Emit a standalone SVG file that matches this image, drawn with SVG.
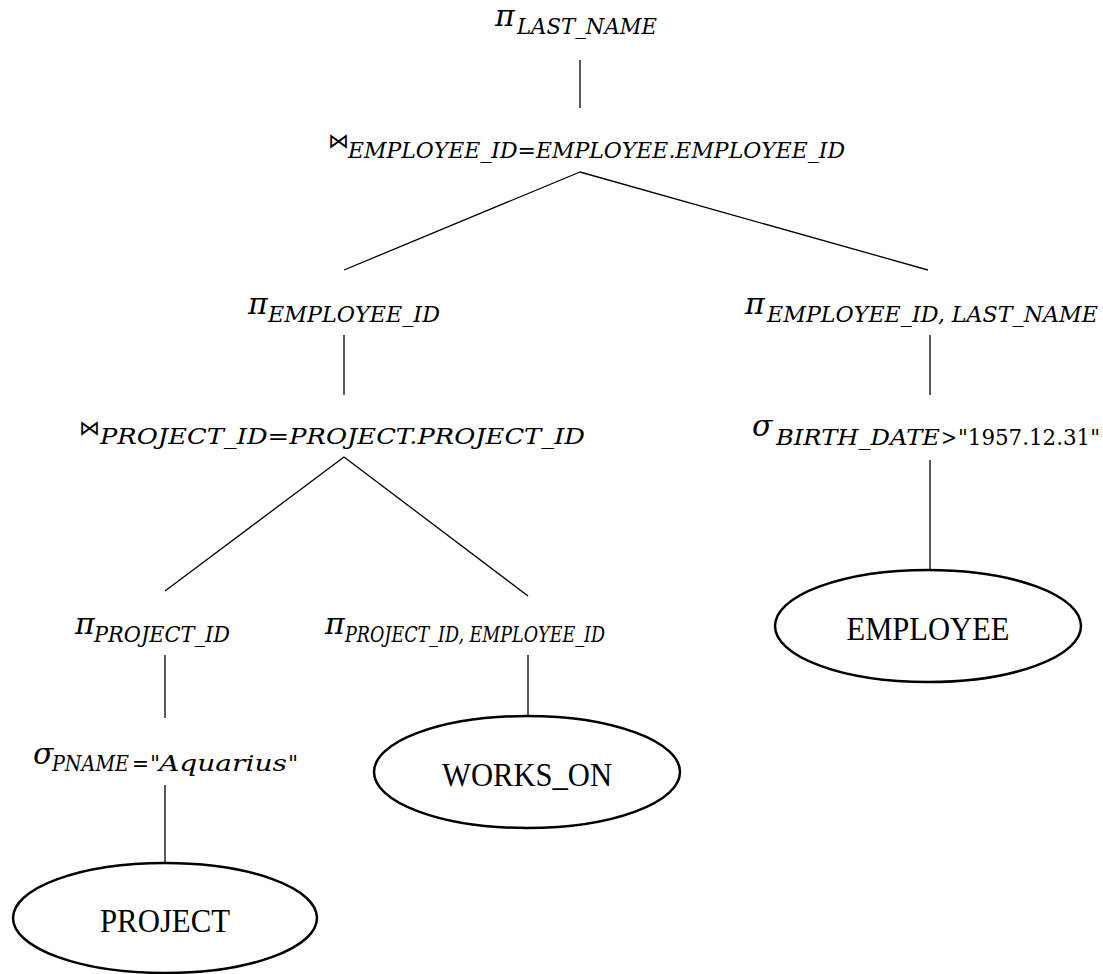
<svg xmlns="http://www.w3.org/2000/svg" width="1103" height="974" viewBox="0 0 1103 974">
<style>
  .sym { font-family: "DejaVu Serif", "Liberation Serif", serif; font-style: italic; font-size: 30px; fill: #000; }
  .sub { font-family: "DejaVu Serif", "Liberation Serif", serif; font-style: italic; font-size: 22px; fill: #000; }
  .up { font-family: "DejaVu Serif", "Liberation Serif", serif; font-style: normal; font-size: 22px; fill: #000; }
  .join { font-family: "DejaVu Sans", sans-serif; font-size: 21px; fill: #000; }
  .rel { font-family: "Liberation Serif", "DejaVu Serif", serif; font-size: 34px; fill: #000; text-anchor: middle; }
  .ell { fill: #fff; stroke: #000; stroke-width: 2.5; }
  .edge { stroke: #000; stroke-width: 1.3; fill: none; }
</style>
<rect width="1103" height="974" fill="#fff"/>
<g id="connectors">
  <line class="edge" x1="580" y1="60" x2="580" y2="108"/>
  <line class="edge" x1="580" y1="172" x2="344" y2="270"/>
  <line class="edge" x1="580" y1="172" x2="928" y2="270"/>
  <line class="edge" x1="344" y1="335" x2="344" y2="395"/>
  <line class="edge" x1="930" y1="335" x2="930" y2="395"/>
  <line class="edge" x1="344" y1="457" x2="165" y2="591"/>
  <line class="edge" x1="344" y1="457" x2="528" y2="596"/>
  <line class="edge" x1="930" y1="460" x2="930" y2="570"/>
  <line class="edge" x1="165" y1="655" x2="165" y2="718"/>
  <line class="edge" x1="528" y1="655" x2="528" y2="716"/>
  <line class="edge" x1="165" y1="785" x2="165" y2="863"/>
</g>
<g id="proj-lastname">
  <text class="sym" x="495" y="26">π</text>
  <text class="sub" x="517" y="34" textLength="140" lengthAdjust="spacingAndGlyphs">LAST_NAME</text>
</g>
<g id="join-employee">
  <text class="join" x="328" y="148">⋈</text>
  <text class="sub" x="348" y="158" textLength="497" lengthAdjust="spacingAndGlyphs">EMPLOYEE_ID=EMPLOYEE.EMPLOYEE_ID</text>
</g>
<g id="proj-employeeid">
  <text class="sym" x="248" y="314">π</text>
  <text class="sub" x="268" y="322" textLength="172" lengthAdjust="spacingAndGlyphs">EMPLOYEE_ID</text>
</g>
<g id="proj-employeeid-lastname">
  <text class="sym" x="745" y="314">π</text>
  <text class="sub" x="767" y="322" textLength="331" lengthAdjust="spacingAndGlyphs">EMPLOYEE_ID, LAST_NAME</text>
</g>
<g id="join-project">
  <text class="join" x="79" y="435">⋈</text>
  <text class="sub" x="100" y="444" textLength="485" lengthAdjust="spacingAndGlyphs">PROJECT_ID=PROJECT.PROJECT_ID</text>
</g>
<g id="select-birthdate">
  <text class="sym" x="752" y="436">σ</text>
  <text class="sub" x="776" y="445" textLength="164" lengthAdjust="spacingAndGlyphs">BIRTH_DATE</text>
  <text class="up" x="941" y="445" textLength="16" lengthAdjust="spacingAndGlyphs">&gt;</text>
  <text class="up" x="958" y="445" textLength="142" lengthAdjust="spacingAndGlyphs">"1957.12.31"</text>
</g>
<g id="proj-projectid">
  <text class="sym" x="75" y="634">π</text>
  <text class="sub" x="94" y="642" textLength="136" lengthAdjust="spacingAndGlyphs">PROJECT_ID</text>
</g>
<g id="proj-projectid-employeeid">
  <text class="sym" x="325" y="634">π</text>
  <text class="sub" x="345" y="642" textLength="260" lengthAdjust="spacingAndGlyphs">PROJECT_ID, EMPLOYEE_ID</text>
</g>
<g id="select-pname">
  <text class="sym" x="33" y="764">σ</text>
  <text class="sub" x="52" y="771" textLength="77" lengthAdjust="spacingAndGlyphs">PNAME</text>
  <text class="up" x="132" y="771" textLength="17" lengthAdjust="spacingAndGlyphs">=</text>
  <text class="up" x="150" y="771">"</text>
  <text class="sub" x="159" y="771" textLength="128" lengthAdjust="spacingAndGlyphs">Aquarius</text>
  <text class="up" x="288" y="771">"</text>
</g>
<g id="employee">
  <ellipse class="ell" cx="928" cy="626" rx="153" ry="56"/>
  <text class="rel" x="928" y="640" textLength="163" lengthAdjust="spacingAndGlyphs">EMPLOYEE</text>
</g>
<g id="works-on">
  <ellipse class="ell" cx="527" cy="772" rx="153" ry="56"/>
  <text class="rel" x="527" y="786" textLength="170" lengthAdjust="spacingAndGlyphs">WORKS_ON</text>
</g>
<g id="project">
  <ellipse class="ell" cx="165" cy="918" rx="152" ry="55"/>
  <text class="rel" x="165" y="932" textLength="130" lengthAdjust="spacingAndGlyphs">PROJECT</text>
</g>
</svg>
